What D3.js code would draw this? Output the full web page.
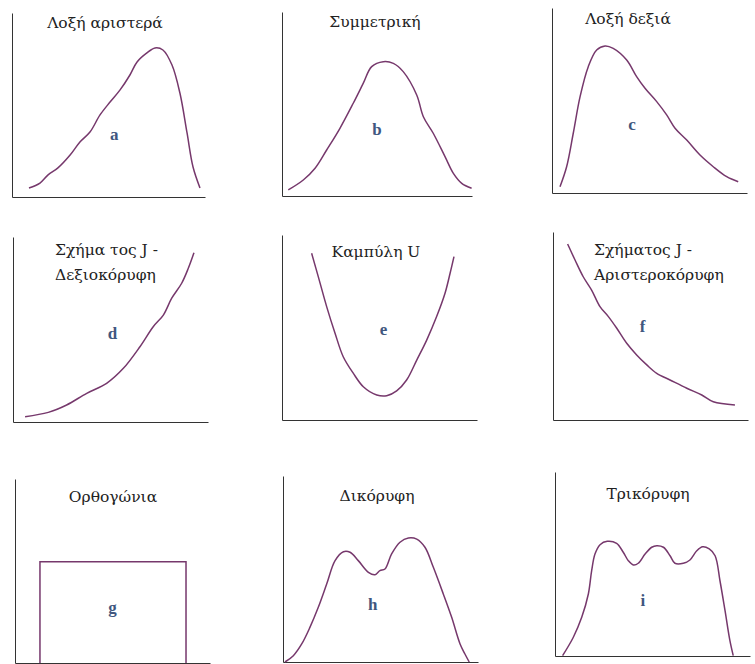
<!DOCTYPE html>
<html>
<head>
<meta charset="utf-8">
<script src="https://cdn.jsdelivr.net/npm/d3@7"></script>
<style>
  body { margin: 0; background: #fff; }
  svg { display: block; }
  .title { font-family: "DejaVu Serif", serif; font-size: 15.5px; fill: #222; }
  .letter { font-family: "Liberation Serif", serif; font-size: 17px; font-weight: bold; fill: #41577f; }
  .axis path { stroke: #333; stroke-width: 1; }
</style>
</head>
<body>
<svg id="chart" width="755" height="664"></svg>
<script>
// curve values, x and y both in 0..100 of each little frame
const skewLeft = [[8.8,4.9],[14.5,7.6],[18.7,12],[23.8,15.8],[30.1,22.8],[35.2,29.9],[40.4,35.3],[45.6,44.6],[50.8,51.6],[56,58.2],[61.1,66.3],[64.8,73.4],[69.9,78.3],[74.1,81],[78.2,79.9],[82.9,71.7],[87,56.5],[90.7,34.8],[93.8,16.3],[97.4,4.9]]
const symmetric = [[3.3,3.3],[11.2,8.7],[17.4,15.1],[23.5,25],[30.5,36.8],[37.5,50.4],[42.8,61.3],[47.2,70.3],[53.3,73],[58.6,72.1],[63.8,67.6],[70.9,54.9],[74.4,43.1],[79.6,34.1],[85.8,21.4],[90.2,12.3],[94.6,6.9],[99.8,4.2]]
const skewRight = [[4.1,3.4],[7.5,14.2],[10.9,32.3],[14.4,52.1],[18.6,68.3],[22.9,77.3],[27.2,79.5],[31.4,78.2],[38.3,71.9],[43.4,62.9],[47.7,56.6],[53.7,49.4],[58.8,42.2],[63.1,35],[69.1,28.6],[75.9,20.5],[82.7,14.2],[89.6,8.8],[95.5,6.1]]
const jRight = [[6.2,2.9],[18.1,5.2],[27.5,9.2],[37.8,15.5],[48,20.9],[56.6,29],[65.1,40.7],[71.9,51.5],[77.1,57.8],[81.4,66.9],[86.5,75],[89.9,83.1],[92.8,91.5]]
const uCurve = [[15.2,90.1],[18.6,77.5],[22.9,61.3],[27.2,46.9],[31.4,34.2],[36.6,25.2],[41.7,18],[48.6,13.5],[53.7,13.1],[58.8,15.7],[63.9,21.6],[69.1,32.4],[74.2,43.2],[79.3,55.9],[83.6,68.5],[86.2,79.3],[88.2,88.3]]
const jLeft = [[7.5,93.6],[11.3,85.1],[15.5,76.2],[19.8,69.1],[24.1,60.3],[28.4,55],[32.7,48.8],[37.8,40.8],[42.9,34.6],[48.1,29.3],[53.2,24.8],[60,21.3],[68.6,16.9],[76.3,13.3],[82.2,9.7],[93.3,8]]
const rectangular = [[12.8,0],[12.8,55],[87.7,55],[87.7,0]]
const bimodal = [[1,0],[5.3,3.4],[9.6,9.7],[13.8,18.6],[18.1,29.4],[22.4,41.9],[26.7,54.5],[31,59.3],[34.4,59],[38.6,54.5],[43.8,48.2],[47.2,46.9],[49.7,49.1],[52.3,50],[55.7,58.1],[60,64.4],[64.3,66.7],[68.6,66.1],[72.8,61.7],[77.1,50.9],[82.2,36.6],[86.5,24],[90.8,9.7],[93.3,4.3],[95.5,0]]
const trimodal = [[3.9,0.2],[9.4,10.2],[13.7,21],[17.1,33.7],[18.8,46.4],[20.5,55.4],[23.1,60.5],[26.8,62.3],[31.6,61.2],[35,56.4],[37.6,51.8],[40.2,49.5],[42.7,50.4],[46.2,55.4],[49.6,59.1],[52.2,59.9],[55.6,59.1],[59,54.5],[61.5,50.4],[65.8,50.4],[69.2,52.2],[72.7,57.2],[75.7,59.4],[79.1,58.2],[82.1,54.5],[84.6,40.9],[87.2,24.6],[89.7,8.3],[91.4,0.2]]

const titles = [["Λοξή αριστερά"], ["Συμμετρική"], ["Λοξή δεξιά"],
                ["Σχήμα τος J -", "Δεξιοκόρυφη"], ["Καμπύλη  U"], ["Σχήματος J  -", "Αριστεροκόρυφη"],
                ["Ορθογώνια"], ["Δικόρυφη"], ["Τρικόρυφη"]]
const letters = ["a", "b", "c", "d", "e", "f", "g", "h", "i"]
const series = [skewLeft, symmetric, skewRight, jRight, uCurve, jLeft, rectangular, bimodal, trimodal]

// frame of each panel on the page: left, top, width, height
const frames = [
  {l: 12, t: 13, w: 193, h: 184}, {l: 282, t: 12, w: 190, h: 184}, {l: 552, t: 8, w: 195, h: 185},
  {l: 13, t: 237, w: 195, h: 185}, {l: 282, t: 235, w: 195, h: 185}, {l: 553, t: 232, w: 195, h: 188},
  {l: 15, t: 479, w: 195, h: 184}, {l: 283, t: 476, w: 195, h: 186}, {l: 555, t: 472, w: 195, h: 184}
]
// title placement (page px), centred unless anchor given
const titlePos = [
  {x: 105, y: 28}, {x: 375, y: 27}, {x: 628, y: 24},
  {x: 55, y: 255, anchor: "start"}, {x: 376, y: 257}, {x: 594, y: 255, anchor: "start"},
  {x: 113, y: 502}, {x: 377, y: 501}, {x: 648, y: 499}
]
// where the letter sits, in the panel's own 0..100 units
const letterPos = [[53, 31], [50, 33], [41, 34], [51, 45], [52, 46], [46, 47], [50, 27], [46, 28], [45, 27]]

const svg = d3.select("#chart")
const line = d3.line().curve(d3.curveCatmullRom.alpha(0.5))

series.forEach((data, i) => {
  const f = frames[i]
  const x = d3.scaleLinear().domain([0, 100]).range([f.l, f.l + f.w])
  const y = d3.scaleLinear().domain([0, 100]).range([f.t + f.h, f.t])
  const g = svg.append("g")

  g.append("g").classed("axis", true)
    .attr("transform", `translate(0,${f.t + f.h})`)
    .call(d3.axisBottom(x).ticks(0).tickSizeOuter(0))
  g.append("g").classed("axis", true)
    .attr("transform", `translate(${f.l},0)`)
    .call(d3.axisLeft(y).ticks(0).tickSizeOuter(0))

  g.append("path")
    .attr("d", i === 6 ? d3.line()(data.map(d => [x(d[0]), y(d[1])])) : line(data.map(d => [x(d[0]), y(d[1])])))
    .attr("fill", "none")
    .attr("stroke", "#76386c")
    .attr("stroke-width", 1.5)

  const tp = titlePos[i]
  const t = g.append("text").classed("title", true)
    .attr("text-anchor", tp.anchor || "middle")
  titles[i].forEach((s, k) => {
    t.append("tspan").attr("x", tp.x).attr("y", tp.y + k * 25).text(s)
  })

  g.append("text").classed("letter", true)
    .attr("text-anchor", "middle")
    .attr("x", x(letterPos[i][0]))
    .attr("y", y(letterPos[i][1]))
    .text(letters[i])
})
</script>
</body>
</html>
